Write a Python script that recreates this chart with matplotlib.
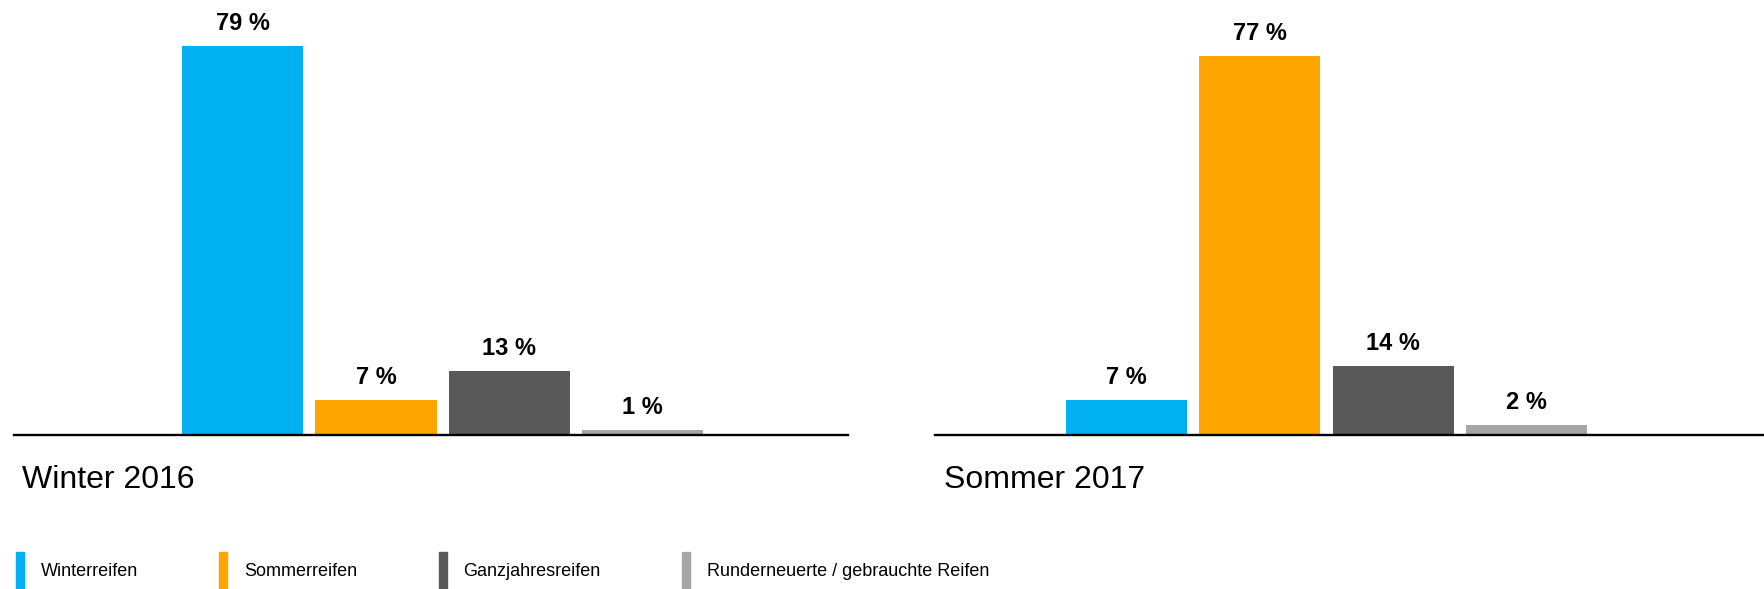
import matplotlib.pyplot as plt
from matplotlib.patches import Rectangle
import numpy as np

plt.rcParams['font.family'] = ['Liberation Sans', 'DejaVu Sans']

categories = ['Winterreifen', 'Sommerreifen', 'Ganzjahresreifen',
              'Runderneuerte / gebrauchte Reifen']
colors = ['#00B0F0', '#FFA500', '#595959', '#A6A6A6']
periods = ['Winter 2016', 'Sommer 2017']
winter_2016 = [79, 7, 13, 1]
sommer_2017 = [7, 77, 14, 2]

W, H = 1765, 589


def draw_panel(fig, left_px, xlim, values, title, title_px):
    ax = fig.add_axes([left_px / W, (H - 434.5) / H, 835 / W, 434.5 / H])
    x = np.arange(len(values))
    bars = ax.bar(x, values, width=0.908, color=colors, edgecolor='none')
    for b, v in zip(bars, values):
        ax.annotate(f'{v} %', (b.get_x() + b.get_width() / 2, v),
                    xytext=(0, 11.5), textcoords='offset points',
                    ha='center', va='baseline', fontsize=17,
                    fontweight='bold', color='black')
    ax.set_xlim(*xlim)
    ax.set_ylim(0, 88.3)
    for s in ['top', 'left', 'right']:
        ax.spines[s].set_visible(False)
    ax.spines['bottom'].set_linewidth(1.7)
    ax.spines['bottom'].set_color('black')
    ax.set_xticks([])
    ax.set_yticks([])
    ax.patch.set_alpha(0)
    fig.text(title_px / W, (H - 488) / H, title, fontsize=23,
             ha='left', va='baseline', color='black')
    return ax


def main():
    fig = plt.figure(figsize=(W / 100, H / 100), dpi=100)
    draw_panel(fig, 13.5, (-1.718, 4.542), winter_2016, periods[0], 22)
    draw_panel(fig, 935, (-1.437, 4.827), sommer_2017, periods[1], 944)

    # tall thin colour bars as legend keys
    handles = [Rectangle((0, 0), 1, 1, color=c) for c in colors]
    fig.legend(handles, categories, loc='lower left',
               bbox_to_anchor=(16 / W, 0), ncol=4, frameon=False,
               fontsize=13, handlelength=0.44, handleheight=2.775,
               handletextpad=0.94, columnspacing=4.5,
               borderpad=0, borderaxespad=0)

    fig.savefig('out.png', dpi=100)


if __name__ == "__main__":
    main()
